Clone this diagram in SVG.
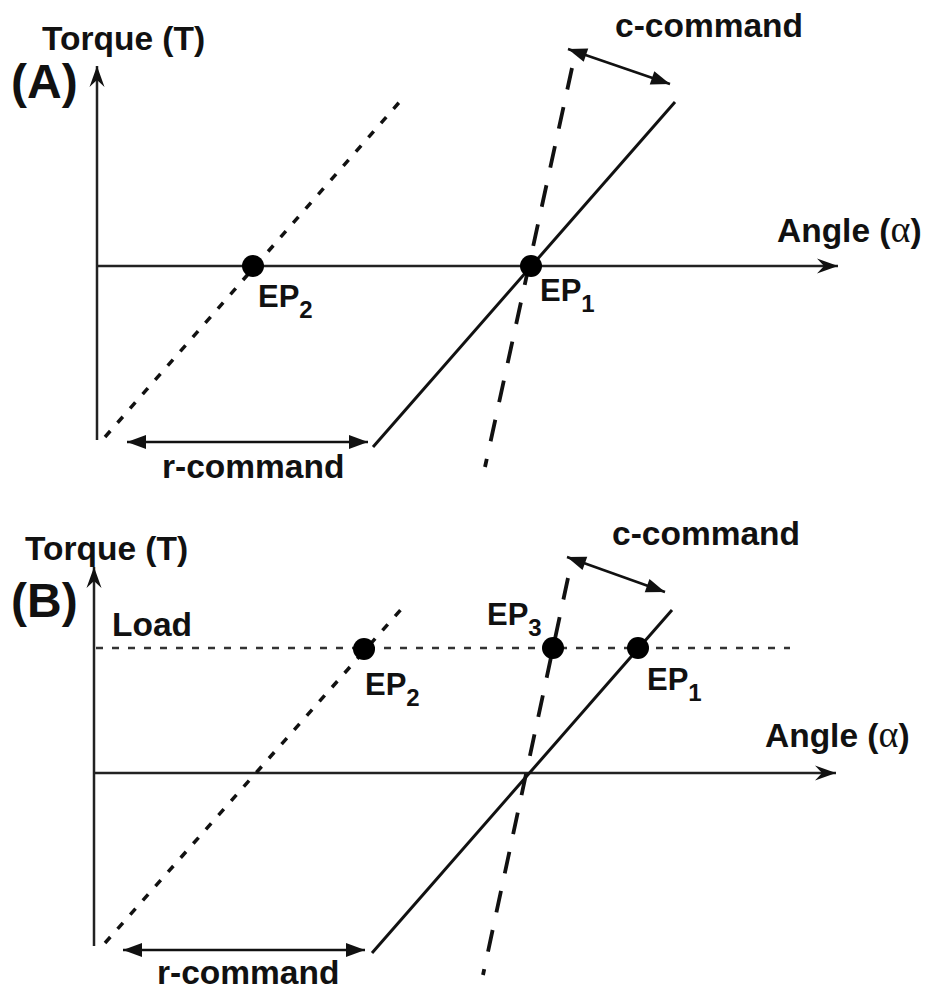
<svg xmlns="http://www.w3.org/2000/svg" width="929" height="991" viewBox="0 0 929 991">
<defs>
<marker id="axisHead" viewBox="-22 -9 24 18" markerWidth="24" markerHeight="18" refX="0" refY="0" orient="auto" markerUnits="userSpaceOnUse">
<path d="M0,0 L-21,-7.5 L-14,0 L-21,7.5 Z" fill="#111"/>
</marker>
<marker id="tri" viewBox="-20 -8 21 16" markerWidth="21" markerHeight="16" refX="0" refY="0" orient="auto-start-reverse" markerUnits="userSpaceOnUse">
<path d="M0,0 L-19,-7 L-19,7 Z" fill="#111"/>
</marker>
</defs>
<style>
text{font-family:"Liberation Sans",Arial,sans-serif;font-weight:bold;fill:#111}
.lbl{font-size:33.5px}
.big{font-size:48px}
.ep{font-size:31px}
.sub{font-size:24px}
.greek{font-family:"Liberation Serif","Times New Roman",serif;font-weight:normal;font-size:38px}
.axis{stroke:#222;stroke-width:2.5;fill:none;marker-end:url(#axisHead)}
.solid{stroke:#111;stroke-width:3;fill:none}
.dotted{stroke:#111;stroke-width:3.5;fill:none;stroke-dasharray:8 11}
.dashed{stroke:#111;stroke-width:3.8;fill:none;stroke-dasharray:22 18}
.load{stroke:#333;stroke-width:2.5;fill:none;stroke-dasharray:7 9}
.cmd{stroke:#111;stroke-width:2.5;fill:none;marker-start:url(#tri);marker-end:url(#tri)}
.dot{fill:#000}
</style>
<rect width="929" height="991" fill="#fff"/>

<g id="panelA">
<g id="A-labels">
<text class="big" x="11" y="98">(A)</text>
<text class="lbl" x="42" y="50">Torque (T)</text>
<text class="lbl" x="777" y="242">Angle (<tspan class="greek">α</tspan>)</text>
<text class="lbl" x="615" y="37">c-command</text>
<text class="lbl" x="162" y="478">r-command</text>
</g>
<g id="A-connectors">
<line class="axis" x1="97" y1="440" x2="97" y2="66"/>
<line class="axis" x1="97" y1="266" x2="838" y2="266"/>
<line class="dotted" x1="105" y1="437" x2="403" y2="98"/>
<line class="solid" x1="373" y1="447" x2="675" y2="102"/>
<line class="dashed" x1="572" y1="68" x2="485" y2="467"/>
<line class="cmd" x1="568" y1="49" x2="670" y2="84"/>
<line class="cmd" x1="127" y1="442" x2="368" y2="442"/>
</g>
<g id="A-EP1">
<circle class="dot" cx="531" cy="266" r="11"/>
<text class="ep" x="540" y="301">EP<tspan class="sub" dy="11">1</tspan></text>
</g>
<g id="A-EP2">
<circle class="dot" cx="253" cy="266" r="11"/>
<text class="ep" x="258" y="307">EP<tspan class="sub" dy="11">2</tspan></text>
</g>
</g>

<g id="panelB">
<g id="B-labels">
<text class="big" x="11" y="617">(B)</text>
<text class="lbl" x="25" y="560">Torque (T)</text>
<text class="lbl" x="112" y="636">Load</text>
<text class="lbl" x="765" y="747">Angle (<tspan class="greek">α</tspan>)</text>
<text class="lbl" x="612" y="545">c-command</text>
<text class="lbl" x="157" y="984">r-command</text>
</g>
<g id="B-connectors">
<line class="axis" x1="94" y1="946" x2="94" y2="567"/>
<line class="axis" x1="94" y1="773" x2="836" y2="773"/>
<line class="load" x1="96" y1="648" x2="790" y2="648"/>
<line class="dotted" x1="105" y1="943" x2="405" y2="605"/>
<line class="solid" x1="372" y1="953" x2="672" y2="610"/>
<line class="dashed" x1="568" y1="578" x2="483" y2="975"/>
<line class="cmd" x1="567" y1="557" x2="665" y2="592"/>
<line class="cmd" x1="123" y1="950" x2="365" y2="950"/>
</g>
<g id="B-EP2">
<circle class="dot" cx="364" cy="649" r="11"/>
<text class="ep" x="365" y="695">EP<tspan class="sub" dy="11">2</tspan></text>
</g>
<g id="B-EP3">
<circle class="dot" cx="553" cy="648" r="11"/>
<text class="ep" x="487" y="625">EP<tspan class="sub" dy="11">3</tspan></text>
</g>
<g id="B-EP1">
<circle class="dot" cx="638" cy="648" r="11"/>
<text class="ep" x="647" y="690">EP<tspan class="sub" dy="11">1</tspan></text>
</g>
</g>
</svg>
